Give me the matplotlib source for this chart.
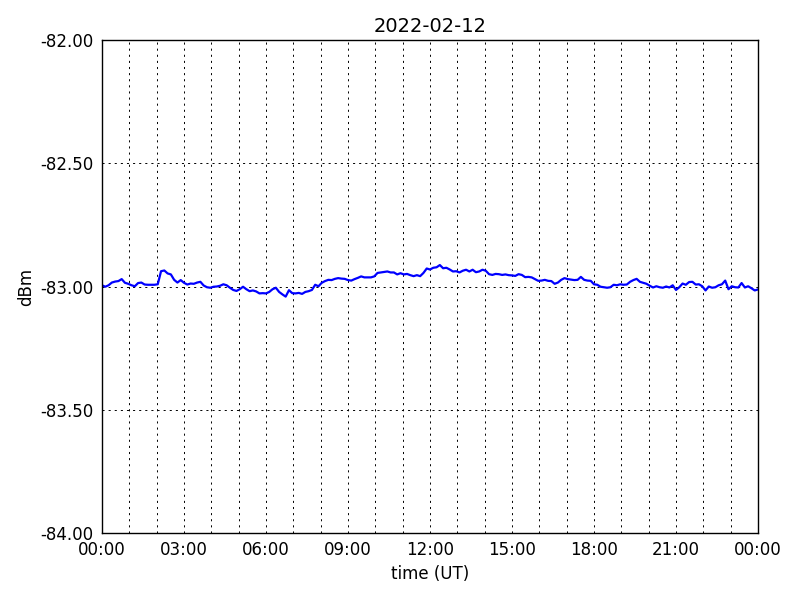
import matplotlib
matplotlib.use('Agg')
import matplotlib.pyplot as plt
import matplotlib.dates as mdates
from matplotlib.ticker import FormatStrFormatter
import pandas as pd

# signal level, one reading every 7.2 minutes over the day
times = pd.date_range('2022-02-12 00:00', '2022-02-13 00:00', periods=201)

dbm = [
    -82.995, -83.001, -82.995, -82.984, -82.980, -82.978, -82.970, -82.985, -82.989, -82.995,
    -82.999, -82.986, -82.984, -82.992, -82.993, -82.993, -82.993, -82.991, -82.938, -82.935,
    -82.947, -82.951, -82.973, -82.984, -82.974, -82.985, -82.992, -82.988, -82.989, -82.984,
    -82.981, -82.996, -83.003, -83.005, -83.001, -83.000, -82.997, -82.991, -82.995, -83.005,
    -83.014, -83.018, -83.011, -83.001, -83.011, -83.019, -83.016, -83.020, -83.028, -83.027,
    -83.028, -83.022, -83.011, -83.005, -83.022, -83.032, -83.041, -83.015, -83.027, -83.028,
    -83.026, -83.030, -83.022, -83.019, -83.014, -82.993, -82.999, -82.985, -82.978, -82.973,
    -82.974, -82.969, -82.966, -82.968, -82.969, -82.974, -82.976, -82.970, -82.965, -82.959,
    -82.963, -82.963, -82.963, -82.959, -82.945, -82.943, -82.941, -82.939, -82.943, -82.943,
    -82.951, -82.946, -82.951, -82.949, -82.954, -82.958, -82.954, -82.958, -82.945, -82.927,
    -82.931, -82.924, -82.922, -82.913, -82.926, -82.924, -82.931, -82.939, -82.938, -82.943,
    -82.936, -82.932, -82.939, -82.932, -82.942, -82.939, -82.932, -82.936, -82.950, -82.953,
    -82.949, -82.950, -82.953, -82.951, -82.954, -82.955, -82.957, -82.950, -82.953, -82.962,
    -82.961, -82.963, -82.970, -82.977, -82.976, -82.973, -82.977,
    -82.978, -82.989, -82.984, -82.973, -82.966, -82.970, -82.972, -82.974, -82.973, -82.961,
    -82.973, -82.976, -82.977, -82.991, -82.993, -83.001, -83.003, -83.005, -83.003, -82.993,
    -82.995, -82.991, -82.993, -82.992, -82.981, -82.974, -82.969, -82.981, -82.985, -82.989,
    -82.997, -83.004, -82.999, -83.003, -83.005, -83.000, -83.004, -82.995, -83.014, -83.003,
    -82.988, -82.993, -82.982, -82.981, -82.992, -82.991, -82.999, -83.016, -83.000, -83.005,
    -83.003, -82.995, -82.991, -82.976, -83.011, -82.999, -83.003, -83.004, -82.986, -83.004,
    -82.999, -83.007, -83.016, -83.012,
]

plt.rcParams['lines.scale_dashes'] = False

fig = plt.figure(figsize=(8, 6), dpi=100)
ax = fig.add_axes([0.1275, 0.1117, 0.82, 0.8216])

ax.plot(times, dbm, color='blue', linewidth=1.6)

ax.set_xlim(times[0], times[-1])
ax.set_ylim(-84, -82)
ax.set_yticks([-84, -83.5, -83, -82.5, -82])
ax.yaxis.set_major_formatter(FormatStrFormatter('%.2f'))

ax.xaxis.set_major_locator(mdates.HourLocator(byhour=range(0, 24, 3)))
ax.xaxis.set_minor_locator(mdates.HourLocator())
ax.xaxis.set_major_formatter(mdates.DateFormatter('%H:%M'))

grid_style = dict(color='black', linestyle=(0, (1.5, 2.9)), linewidth=0.7)
ax.grid(True, which='both', axis='x', **grid_style)
ax.grid(True, which='major', axis='y', **grid_style)
ax.tick_params(which='both', length=0, labelsize=12, pad=6)
for s in ax.spines.values():
    s.set_linewidth(1.0)

ax.set_title('2022-02-12', fontsize=14)
ax.set_xlabel('time (UT)', fontsize=12)
ax.set_ylabel('dBm', fontsize=12)

fig.savefig('out.png', dpi=100)
